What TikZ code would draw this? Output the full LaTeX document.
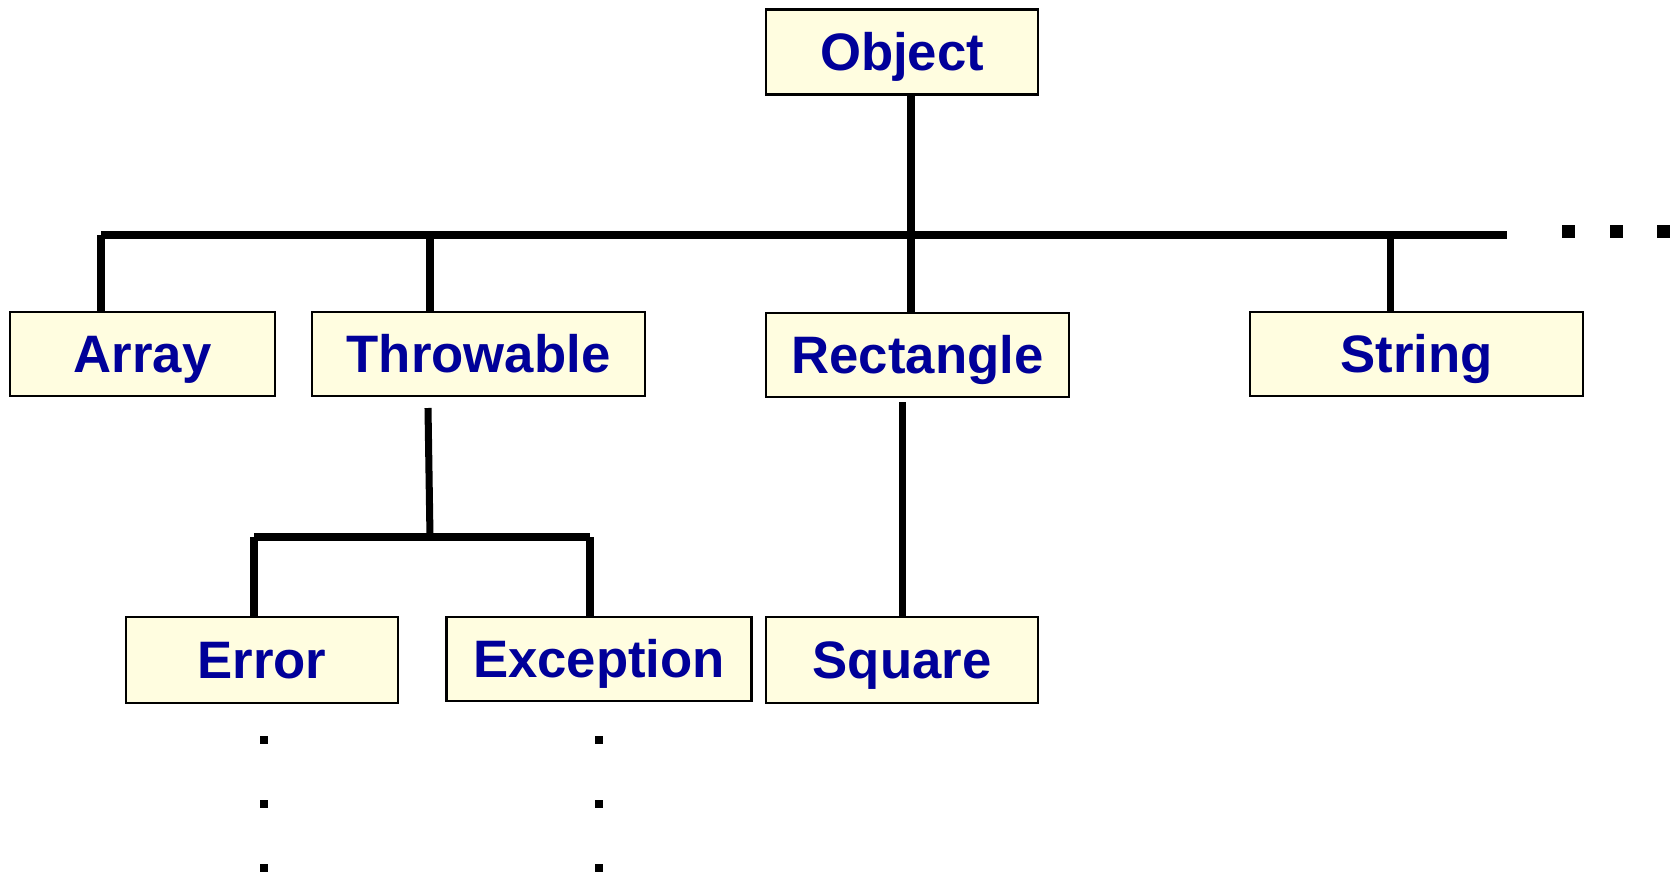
\documentclass[tikz,border=0pt]{standalone}
\usepackage{fontspec}
\setmainfont{Liberation Sans}
\usepackage{xcolor}
\definecolor{boxfill}{RGB}{255,253,224}
\definecolor{classblue}{RGB}{0,0,153}

\begin{document}
\begin{tikzpicture}[x=0.02cm, y=-0.02cm,
    cls/.style={draw=black, line width=1.4pt, fill=boxfill, text=classblue,
        font=\bfseries\fontsize{30}{36}\selectfont, inner sep=0pt,
        text height=21.5pt, text depth=0pt, minimum height=1.68cm},
    link/.style={line width=4pt},
    bar/.style={line width=4.4pt},
    dot/.style={fill=black}]
    \useasboundingbox (0,0) rectangle (1673,876);

    % Root
    \node[cls, minimum width=5.44cm, minimum height=1.7cm] (obj) at (902,52) {Object};

    % Direct subclasses
    \node[cls, minimum width=5.3cm] (arr) at (142.5,354) {Array};
    \node[cls, minimum width=6.66cm] (thr) at (478.5,354) {Throwable};
    \node[cls, minimum width=6.06cm] (rect) at (917.5,355) {Rectangle};
    \node[cls, minimum width=6.66cm] (str) at (1416.5,354) {String};

    % Second level
    \node[cls, minimum width=5.44cm, minimum height=1.72cm] (err) at (262,660) {Error};
    \node[cls, minimum width=6.1cm] (exc) at (599,659) {Exception};
    \node[cls, minimum width=5.44cm, minimum height=1.72cm] (sq) at (902,660) {Square};

    % Main bar
    \coordinate (barL) at (101,235);
    \coordinate (barR) at (1507,235);
    \coordinate (jthr) at (430,235);
    \coordinate (jrect) at (911,235);
    \coordinate (jstr) at (1390,235);
    \draw[bar] (barL) -- (barR);
    \draw[link] (obj.south -| jrect) -- (rect.north -| jrect);
    \draw[link] (barL) -- (barL |- arr.north);
    \draw[link] (jthr) -- (jthr |- thr.north);
    \draw[link] (jstr) -- (jstr |- str.north);

    % Throwable bar
    \coordinate (thrdown) at (428,408);
    \coordinate (subL) at (254,537);
    \coordinate (subR) at (590,537);
    \coordinate (subM) at (430,537);
    \draw[link] (thrdown) -- (subM);
    \draw[link] (subL) -- (subR);
    \draw[link] (subL) -- (subL |- err.north);
    \draw[link] (subR) -- (subR |- exc.north);

    % Rectangle to Square
    \coordinate (rectdown) at (902.5,402);
    \draw[link] (rectdown) -- (rectdown |- sq.north);

    % More classes
    \foreach \x in {1568.5,1616.5,1663.5}
        \fill[dot] (\x-6.5,225) rectangle (\x+6.5,238);
    \foreach \y in {740,804,868}{
        \fill[dot] (259.5,\y-4) rectangle (267.5,\y+4);
        \fill[dot] (594.5,\y-4) rectangle (602.5,\y+4);
    }
\end{tikzpicture}
\end{document}
